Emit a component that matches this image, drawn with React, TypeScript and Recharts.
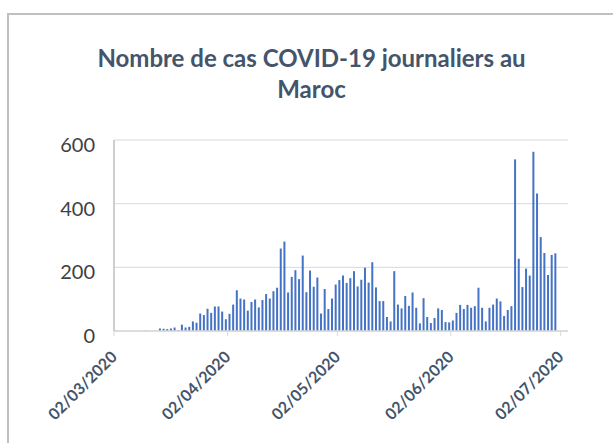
import { BarChart, Bar, XAxis, YAxis, CartesianGrid } from "recharts";

// daily new cases (02/03/2020 -> 30/06/2020)
const marchCases = [
  1, 0, 0, 0, 0, 0, 0, 0, 1, 0, 0, 0, 8, 7, 6, 8, 11, 3, 20, 11, 13, 30, 26, 55,
  50, 70, 57, 77, 77, 61,
];
const aprilCases = [
  37, 54, 83, 128, 102, 99, 64, 91, 99, 74, 97, 116, 102, 125, 136, 259, 281,
  121, 170, 191, 163, 237, 122, 190, 139, 168, 55, 132, 69, 102,
];
const mayCases = [
  146, 160, 174, 151, 166, 188, 140, 161, 199, 152, 216, 137, 94, 94, 44, 30,
  188, 83, 71, 110, 79, 121, 73, 24, 103, 44, 25, 41, 71, 66, 28,
];
const juneCases = [
  27, 33, 57, 82, 69, 82, 73, 78, 136, 73, 30, 73, 83, 102, 93, 47, 66, 78, 539,
  227, 138, 196, 174, 563, 432, 295, 245, 176, 239, 244,
];
const yTicks = [0, 200, 400, 600];
const xTicks = ["02/03/2020", "02/04/2020", "02/05/2020", "02/06/2020", "02/07/2020"];
const dayCount = 124; // axis runs to 03/07/2020

const allCases = [...marchCases, ...aprilCases, ...mayCases, ...juneCases];

const pad = (n: number) => (n < 10 ? "0" + n : "" + n);
const chartData: { date: string; cases: number | null }[] = [];
for (let i = 0; i < dayCount; i++) {
  const d = new Date(Date.UTC(2020, 2, 2 + i));
  chartData.push({
    date: `${pad(d.getUTCDate())}/${pad(d.getUTCMonth() + 1)}/${d.getUTCFullYear()}`,
    cases: i < allCases.length ? allCases[i] : null,
  });
}

const FONT = "Lato, 'Open Sans', sans-serif";

const DateTick = (props: any) => {
  const { x, y, payload } = props;
  // Excel puts the date tick at the start of the day's slot
  const tx = x - 1.83;
  return (
    <g transform={`translate(${tx},${y})`}>
      <line x1={0} x2={0} y1={0} y2={5} stroke="#d9d9d9" />
      <text
        x={0}
        y={0}
        transform="translate(4,27) rotate(-45)"
        textAnchor="end"
        fill="#44546a"
        fontFamily={FONT}
        fontWeight={700}
        fontSize={16}
      >
        {payload.value}
      </text>
    </g>
  );
};

const CountTick = (props: any) => {
  const { x, y, payload } = props;
  return (
    <text
      x={x}
      y={y + 5}
      dy="0.355em"
      textAnchor="end"
      fill="#404040"
      fontFamily={FONT}
      fontSize={20}
    >
      {payload.value}
    </text>
  );
};

export default function App() {
  return (
    <div
      style={{
        position: "fixed",
        left: 7,
        top: 13,
        width: 620,
        height: 440,
        borderTop: "2px solid #c0c0c0",
        borderLeft: "2px solid #c0c0c0",
        boxSizing: "border-box",
        background: "#fff",
      }}
    >
      <div
        style={{
          position: "absolute",
          top: 27,
          left: 3,
          width: 599,
          textAlign: "center",
          fontFamily: FONT,
          fontWeight: 700,
          fontSize: 24,
          lineHeight: "31px",
          color: "#44546a",
        }}
      >
        Nombre de cas COVID-19 journaliers au
        <br />
        Maroc
      </div>
      <div style={{ position: "absolute", left: -1, top: -1 }}>
        <BarChart
          width={599}
          height={423}
          data={chartData}
          margin={{ top: 126, right: 39, left: 56, bottom: 46 }}
        >
          <CartesianGrid vertical={false} stroke="#d9d9d9" />
          <XAxis
            dataKey="date"
            ticks={xTicks}
            interval={0}
            height={60}
            tickSize={0}
            tickMargin={0}
            tickLine={false}
            tick={<DateTick />}
            axisLine={{ stroke: "#d9d9d9", strokeWidth: 1.5 }}
          />
          <YAxis
            domain={[0, 600]}
            ticks={yTicks}
            width={50}
            tickSize={0}
            tickMargin={19}
            axisLine={{ stroke: "#bfbfbf", strokeWidth: 1.5 }}
            tickLine={false}
            tick={<CountTick />}
          />
          <Bar dataKey="cases" fill="#4472c4" barSize={2} isAnimationActive={false} />
        </BarChart>
      </div>
    </div>
  );
}
